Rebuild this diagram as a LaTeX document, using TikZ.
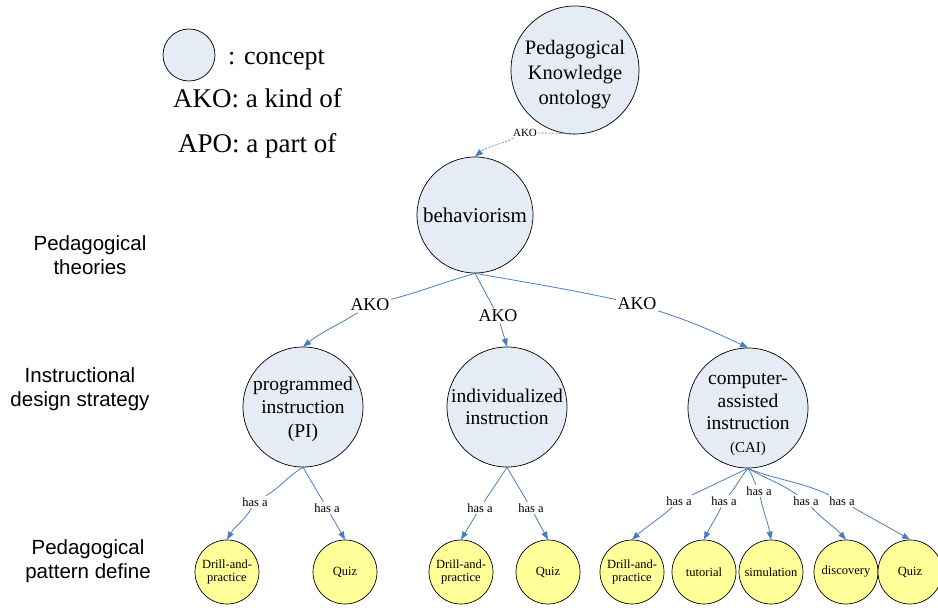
\documentclass[tikz,border=0pt]{standalone}
\usepackage{fontspec}
\setmainfont{Liberation Serif}
\setsansfont{Liberation Sans}
\usetikzlibrary{arrows.meta}
\definecolor{conceptfill}{RGB}{230,236,246}
\definecolor{patfill}{RGB}{255,255,153}
\definecolor{edgeblue}{RGB}{74,126,193}
\begin{document}
\begin{tikzpicture}[x=1pt,y=1pt,
  concept/.style={circle,draw=black,line width=0.7pt,fill=conceptfill,inner sep=0pt,align=center,font=\fontsize{19.5}{23}\selectfont},
  patnode/.style={circle,draw=black,line width=0.7pt,fill=patfill,minimum size=64pt,inner sep=0pt,align=center,font=\fontsize{12.5}{13.5}\selectfont},
  lab/.style={inner sep=1.5pt,font=\fontsize{12.5}{14}\selectfont},
  akolab/.style={inner sep=1.5pt,font=\fontsize{18}{20}\selectfont},
  conn/.style={draw=edgeblue,line width=0.8pt},
  arr/.style={conn,-{Triangle[length=8pt,width=6pt]}},
  sidelab/.style={align=center,font=\sffamily\fontsize{20.5}{24.5}\selectfont}]
\useasboundingbox (0,0) rectangle (938,608);

% legend
\node[concept,minimum size=52pt] (leg) at (189,553) {};
\node[anchor=base west,inner sep=0pt,font=\fontsize{26}{30}\selectfont] (legt) at (228,543) {: concept};
\node[anchor=base west,inner sep=0pt,font=\fontsize{27}{30}\selectfont] (ako) at (173,500) {AKO: a kind of};
\node[anchor=base west,inner sep=0pt,font=\fontsize{27}{30}\selectfont] (apo) at (178,455) {APO: a part of};

% side labels
\node[sidelab] (s1) at (90,353) {Pedagogical\\theories};
\node[sidelab] (s2) at (80,219) {Instructional\\design strategy};
\node[sidelab] (s3) at (88,47) {Pedagogical\\pattern define};

% concepts
\node[concept,minimum size=128pt,inner sep=-10pt,font=\fontsize{20.5}{25}\selectfont] (pko) at (575,538) {\rule{0pt}{23pt}Pedagogical\\Knowledge\\ontology};
\node[concept,minimum size=116pt,font=\fontsize{21}{24}\selectfont] (beh) at (475,393) {behaviorism};
\node[concept,minimum size=120pt,inner sep=-10pt,font=\fontsize{19.5}{23.5}\selectfont] (pi) at (303,201) {\rule{0pt}{18pt}programmed\\instruction\\(PI)};
\node[concept,minimum size=120pt,font=\fontsize{19.5}{22}\selectfont] (ind) at (507,201) {individualized\\instruction};
\node[concept,minimum size=120pt,inner sep=-12pt,font=\fontsize{19.5}{22.5}\selectfont] (cai) at (748,200) {\rule{0pt}{24pt}computer-\\assisted\\instruction\\{\fontsize{15}{22.5}\selectfont (CAI)}};

% patterns
\node[patnode] (d1) at (227,36) {Drill-and-\\practice};
\node[patnode] (q1) at (345,36) {Quiz};
\node[patnode] (d2) at (461,36) {Drill-and-\\practice};
\node[patnode] (q2) at (548,36) {Quiz};
\node[patnode] (d3) at (632,36) {Drill-and-\\practice};
\node[patnode] (tu) at (704,36) {tutorial};
\node[patnode] (si) at (771,36) {simulation};
\node[patnode] (di) at (846,36) {discovery};
\node[patnode] (q3) at (910,36) {Quiz};

% AKO labels
\node[inner sep=1.5pt,font=\fontsize{11}{12}\selectfont] (akoT) at (525,475) {AKO};
\node[akolab] (akoL) at (370,303) {AKO};
\node[akolab] (akoM) at (498,292) {AKO};
\node[akolab] (akoR) at (637,304) {AKO};

% has a labels
\node[lab] (h1) at (255,106) {has a};
\node[lab] (h2) at (327,100) {has a};
\node[lab] (h8) at (480,100) {has a};
\node[lab] (h9) at (531,100) {has a};
\node[lab] (h3) at (679,107) {has a};
\node[lab] (h4) at (724,107) {has a};
\node[lab] (h5) at (759,117) {has a};
\node[lab] (h6) at (806,107) {has a};
\node[lab] (h7) at (842,107) {has a};

% edges
\draw[conn,line width=0.6pt,dash pattern=on 2pt off 1.5pt] (pko.south) to[out=175,in=0] (akoT);
\draw[arr,line width=0.6pt,dash pattern=on 2pt off 1.5pt] (akoT) to[out=205,in=40] (beh.north);

\draw[conn] (beh.south) to[out=196,in=15] (akoL);
\draw[arr] (akoL) to[out=212,in=38] (pi.north);
\draw[conn] (beh.south) -- (akoM);
\draw[arr] (akoM) -- (ind.north);
\draw[conn] (beh.south) to[out=-10,in=168] (akoR);
\draw[arr] (akoR) to[out=-18,in=155] (cai.north);

\draw[conn] (pi.south) to[out=210,in=30] (h1);
\draw[arr] (h1) to[out=240,in=60] (d1.north);
\draw[conn] (pi.south) -- (h2);
\draw[arr] (h2) -- (q1.north);

\draw[conn] (ind.south) -- (h8);
\draw[arr] (h8) -- (d2.north);
\draw[conn] (ind.south) -- (h9);
\draw[arr] (h9) -- (q2.north);

\draw[conn] (cai.south) to[out=205,in=25] (h3);
\draw[arr] (h3) to[out=222,in=42] (d3.north);
\draw[conn] (cai.south) to[out=230,in=50] (h4);
\draw[arr] (h4) to[out=245,in=65] (tu.north);
\draw[conn] (cai.south) to[out=305,in=116] (h5);
\draw[arr] (h5) to[out=282,in=100] (si.north);
\draw[conn] (cai.south) to[out=330,in=145] (h6);
\draw[arr] (h6) to[out=312,in=132] (di.north);
\draw[conn] (cai.south) to[out=338,in=155] (h7);
\draw[arr] (h7) to[out=330,in=150] (q3.north);
\end{tikzpicture}
\end{document}
